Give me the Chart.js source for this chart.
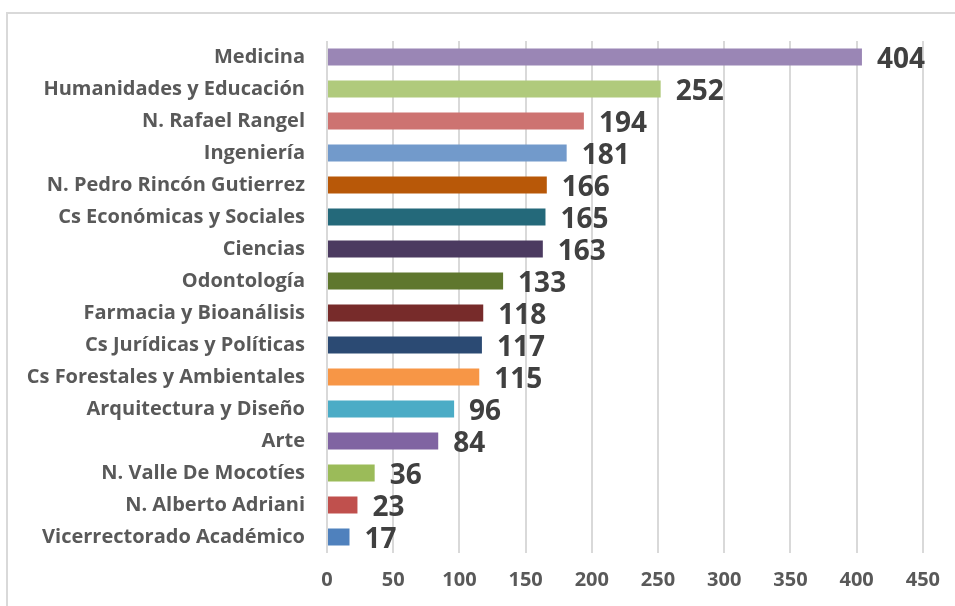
<!DOCTYPE html>
<html>
<head>
<meta charset="utf-8">
<script src="https://cdn.jsdelivr.net/npm/chart.js@4/dist/chart.umd.min.js"></script>
<style>
  html, body { margin: 0; padding: 0; background: #fff; overflow: hidden; }
  #wrap { position: absolute; left: 0; top: 0; width: 955px; height: 606px; }
  #frame { position: absolute; left: 6px; top: 12px; width: 980px; height: 640px; border: 2px solid #d9d9d9; box-sizing: border-box; }
  canvas { position: absolute; left: 0; top: 0; }
</style>
</head>
<body>
<div id="wrap">
  <div id="frame"></div>
  <canvas id="c" width="955" height="606"></canvas>
</div>
<script>
const categories = [
  "Medicina",
  "Humanidades y Educación",
  "N. Rafael Rangel",
  "Ingeniería",
  "N. Pedro Rincón Gutierrez",
  "Cs Económicas y Sociales",
  "Ciencias",
  "Odontología",
  "Farmacia y Bioanálisis",
  "Cs Jurídicas y Políticas",
  "Cs Forestales y Ambientales",
  "Arquitectura y Diseño",
  "Arte",
  "N. Valle De Mocotíes",
  "N. Alberto Adriani",
  "Vicerrectorado Académico"
];
const values = [404, 252, 194, 181, 166, 165, 163, 133, 118, 117, 115, 96, 84, 36, 23, 17];
const barColors = [
  "#9A86B5", "#B0CA7C", "#CD7371", "#729ACB", "#B85808", "#24697A",
  "#4B3A60", "#5F772E", "#772B2A", "#2B4A73", "#F79646", "#4BACC6",
  "#8064A2", "#9BBB59", "#C0504D", "#4F81BD"
];
const xTicks = [0, 50, 100, 150, 200, 250, 300, 350, 400, 450];

const FONT = "'Open Sans', sans-serif";

const valueLabels = {
  id: 'valueLabels',
  afterDatasetsDraw(chart) {
    const ctx = chart.ctx;
    const meta = chart.getDatasetMeta(0);
    ctx.save();
    ctx.font = "bold 28px " + FONT;
    ctx.fillStyle = "#404040";
    ctx.textAlign = "left";
    ctx.textBaseline = "middle";
    meta.data.forEach((bar, i) => {
      ctx.fillText(String(values[i]), bar.x + 15, bar.y + 3);
    });
    ctx.restore();
  }
};

new Chart(document.getElementById('c'), {
  type: 'bar',
  data: {
    labels: categories,
    datasets: [{
      data: values,
      backgroundColor: barColors,
      borderWidth: 0,
      barPercentage: 0.53,
      categoryPercentage: 1.0
    }]
  },
  options: {
    indexAxis: 'y',
    responsive: false,
    animation: false,
    devicePixelRatio: 1,
    layout: { padding: { top: 41, right: 32, bottom: 0, left: 0 } },
    plugins: { legend: { display: false }, tooltip: { enabled: false } },
    scales: {
      x: {
        min: 0, max: 450,
        afterBuildTicks(scale) { scale.ticks = xTicks.map(v => ({ value: v })); },
        afterFit(scale) { scale.height = 53; },
        grid: { color: "#d9d9d9", lineWidth: 2, drawTicks: false },
        border: { display: false },
        ticks: { color: "#595959", font: { family: FONT, size: 20, weight: 'bold' }, padding: 15 }
      },
      y: {
        afterFit(scale) { scale.width = 327; },
        grid: { display: false, drawTicks: false },
        border: { display: false },
        ticks: { color: "#595959", font: { family: FONT, size: 20, weight: 'bold' }, padding: 22, autoSkip: false }
      }
    }
  },
  plugins: [valueLabels]
});
</script>
</body>
</html>
